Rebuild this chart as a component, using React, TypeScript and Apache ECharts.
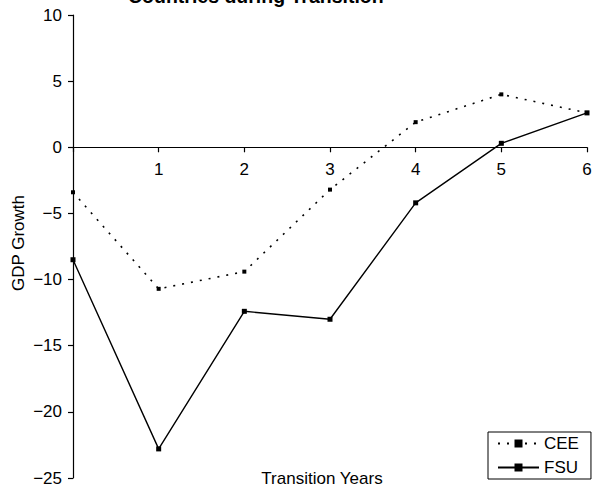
import React, { useEffect, useRef } from "react";
import * as echarts from "echarts";

const years = [0, 1, 2, 3, 4, 5, 6];
const ceeValues = [-3.4, -10.7, -9.4, -3.2, 1.9, 4.0, 2.6];
const fsuValues = [-8.5, -22.8, -12.4, -13.0, -4.2, 0.3, 2.6];
const seriesNames = ["CEE", "FSU"];
const titleText = "Countries during Transition";
const xAxisName = "Transition Years";
const yAxisName = "GDP Growth";

const FONT = "'Liberation Sans', Arial, Helvetica, sans-serif";

const GRID_TOP = 15;
const GRID_BOTTOM = 10;
const HEIGHT = 488;
const Y_MIN = -25;
const Y_MAX = 10;

export default function App() {
  const ref = useRef<HTMLDivElement>(null);
  useEffect(() => {
    document.body.style.margin = "0";
    const chart = echarts.init(ref.current!, null, { renderer: "svg" });
    const plotH = HEIGHT - GRID_TOP - GRID_BOTTOM;
    const zeroFromBottom = (plotH * (0 - Y_MIN)) / (Y_MAX - Y_MIN);
    chart.setOption({
      animation: false,
      backgroundColor: "#fff",
      textStyle: { fontFamily: FONT, color: "#000" },
      grid: {
        left: 73,
        right: 17,
        top: GRID_TOP,
        bottom: GRID_BOTTOM,
        containLabel: false,
        outerBoundsMode: "none",
      },
      xAxis: {
        type: "value",
        min: 0,
        max: 6,
        interval: 1,
        offset: -zeroFromBottom,
        axisLine: { onZero: false, lineStyle: { color: "#000", width: 1.2 } },
        axisTick: { show: true, length: 5, lineStyle: { color: "#000", width: 1.2 } },
        axisLabel: {
          color: "#000",
          fontSize: 17,
          fontFamily: FONT,
          margin: 14,
          formatter: (v: number) => (v === 0 ? "" : String(v)),
        },
        splitLine: { show: false },
      },
      yAxis: {
        type: "value",
        min: Y_MIN,
        max: Y_MAX,
        interval: 5,
        axisLine: { show: true, onZero: false, lineStyle: { color: "#000", width: 1.2 } },
        axisTick: { show: true, length: 5, lineStyle: { color: "#000", width: 1.2 } },
        axisLabel: {
          color: "#000",
          fontSize: 17,
          fontFamily: FONT,
          margin: 11,
          formatter: (v: number) => String(v).replace("-", "\u2212"),
        },
        splitLine: { show: false },
      },
      legend: {
        data: seriesNames,
        orient: "vertical",
        left: 488,
        top: 432,
        height: 60,
        borderColor: "#000",
        borderWidth: 1,
        borderRadius: 0,
        backgroundColor: "#fff",
        padding: [3, 12, 3, 9],
        itemWidth: 41,
        itemHeight: 10,
        itemGap: 7,
        textStyle: { fontSize: 17, color: "#000", fontFamily: FONT },
      },
      graphic: [
        {
          type: "text",
          x: 128,
          y: -4,
          style: {
            text: titleText,
            font: `bold 19.5px ${FONT}`,
            fill: "#000",
            align: "left",
            verticalAlign: "middle",
          },
        },
        {
          type: "text",
          x: 322,
          y: 478,
          style: {
            text: xAxisName,
            font: `17px ${FONT}`,
            fill: "#000",
            align: "center",
            verticalAlign: "middle",
          },
        },
        {
          type: "text",
          x: 18,
          y: 243,
          rotation: Math.PI / 2,
          style: {
            text: yAxisName,
            font: `17px ${FONT}`,
            fill: "#000",
            align: "center",
            verticalAlign: "middle",
          },
        },
      ],
      series: [
        {
          name: seriesNames[0],
          type: "line",
          data: years.map((x, i) => [x, ceeValues[i]]),
          symbol: "rect",
          symbolSize: 4,
          itemStyle: { color: "#000" },
          lineStyle: { color: "#000", width: 1.6, type: [2, 7] },
        },
        {
          name: seriesNames[1],
          type: "line",
          data: years.map((x, i) => [x, fsuValues[i]]),
          symbol: "rect",
          symbolSize: 5,
          itemStyle: { color: "#000" },
          lineStyle: { color: "#000", width: 1.4, type: "solid" },
        },
      ],
    });
    return () => chart.dispose();
  }, []);
  return <div ref={ref} style={{ width: 604, height: 488 }} />;
}
